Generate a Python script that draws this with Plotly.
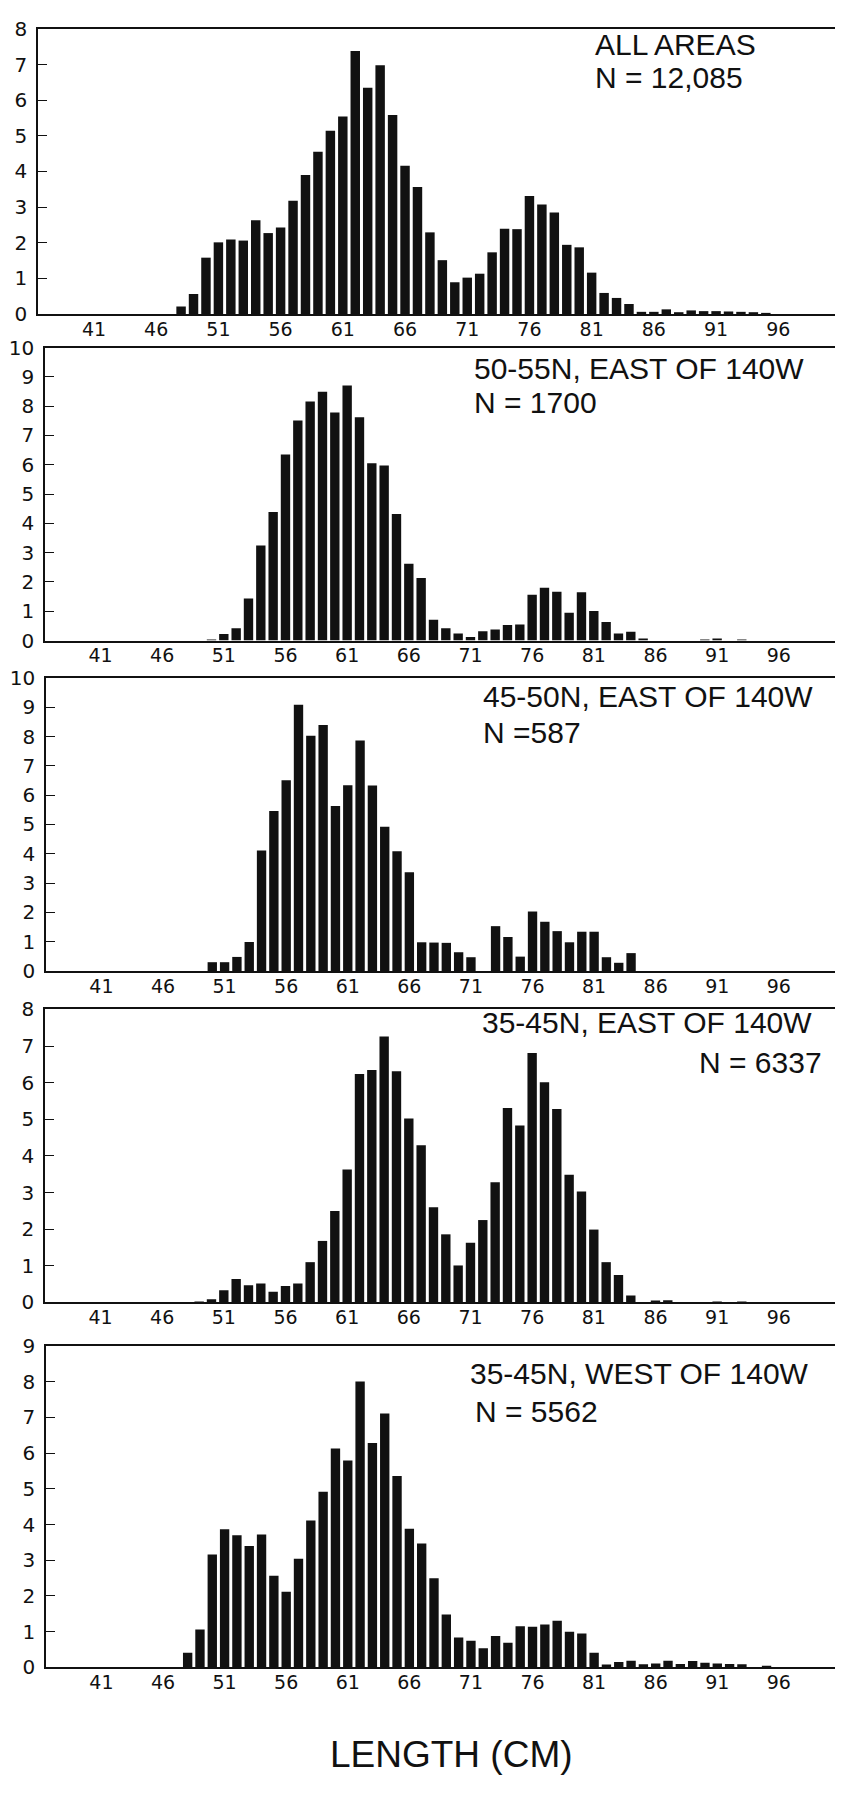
import plotly.graph_objects as go

# The page body keeps the browser's default 8px margin: the figure is sized so
# that margin + figure fill the 843x1794 window exactly, and every position
# below is given in window pixels.
OFF = 8
W, H = 843 - OFF, 1794 - 2 * OFF

# length classes (cm), one bar per cm
length_cm = list(range(48, 96))

all_areas = [0.21, 0.56, 1.58, 2.01, 2.09, 2.06, 2.63, 2.27, 2.43, 3.18, 3.90, 4.55,
             5.14, 5.54, 7.38, 6.35, 6.98, 5.58, 4.16, 3.56, 2.29, 1.51, 0.89, 1.02,
             1.13, 1.73, 2.39, 2.38, 3.31, 3.07, 2.85, 1.94, 1.87, 1.16, 0.59, 0.45,
             0.28, 0.06, 0.06, 0.13, 0.05, 0.10, 0.08, 0.08, 0.07, 0.06, 0.05, 0.03]

n50_55_east = [0, 0, 0.03, 0.22, 0.42, 1.43, 3.24, 4.39, 6.35, 7.51, 8.16, 8.49,
               7.78, 8.70, 7.62, 6.05, 5.97, 4.32, 2.62, 2.13, 0.71, 0.42, 0.24, 0.12,
               0.32, 0.38, 0.53, 0.55, 1.56, 1.80, 1.66, 0.95, 1.65, 1.01, 0.63, 0.24,
               0.30, 0.06, 0, 0, 0, 0, 0.02, 0.06, 0, 0.02, 0, 0]

n45_50_east = [0, 0, 0.30, 0.30, 0.48, 0.99, 4.11, 5.46, 6.51, 9.09, 8.03, 8.40,
               5.63, 6.34, 7.87, 6.33, 4.92, 4.09, 3.37, 0.98, 0.97, 0.96, 0.64, 0.47,
               0, 1.53, 1.16, 0.49, 2.03, 1.68, 1.36, 0.98, 1.34, 1.34, 0.47, 0.28,
               0.61, 0, 0, 0, 0, 0, 0, 0, 0, 0, 0, 0]

n35_45_east = [0, 0.02, 0.09, 0.33, 0.64, 0.47, 0.52, 0.29, 0.45, 0.52, 1.10, 1.68,
               2.50, 3.63, 6.24, 6.35, 7.26, 6.31, 5.02, 4.29, 2.60, 1.86, 1.01, 1.63,
               2.25, 3.28, 5.31, 4.83, 6.81, 6.01, 5.28, 3.49, 3.03, 1.99, 1.10, 0.75,
               0.19, 0, 0.03, 0.06, 0, 0, 0, 0.02, 0, 0.02, 0, 0]

n35_45_west = [0.41, 1.06, 3.16, 3.87, 3.70, 3.40, 3.72, 2.57, 2.12, 3.04, 4.11, 4.92,
               6.13, 5.79, 8.00, 6.28, 7.11, 5.36, 3.88, 3.47, 2.50, 1.48, 0.84, 0.75,
               0.54, 0.88, 0.69, 1.15, 1.14, 1.20, 1.31, 1.00, 0.95, 0.41, 0.08, 0.15,
               0.19, 0.09, 0.11, 0.19, 0.10, 0.18, 0.13, 0.11, 0.10, 0.09, 0, 0.04]

x_tick_vals = [41, 46, 51, 56, 61, 66, 71, 76, 81, 86, 91, 96]
x_tick_text = ["41", "46", "51", "56", "61", "66", "71", "76", "81", "86", "91", "96"]

panel_series = [all_areas, n50_55_east, n45_50_east, n35_45_east, n35_45_west]
panel_ymax = [8, 10, 10, 8, 9]

# panel frames in window pixels: (left, right, top, bottom)
panel_px = [
    (38, 838, 17, 306),
    (45, 838, 340, 637),
    (46, 838, 675, 972),
    (45, 838, 1011, 1308),
    (46, 838, 1352, 1678),
]

FONT = "Liberation Sans, Arial, Helvetica, sans-serif"
TICKFONT = "DejaVu Sans, Liberation Sans, sans-serif"
INK = "#111111"


def fx(x):
    return (x - OFF) / W


def fy(y):
    return 1 - (y - OFF) / H


fig = go.Figure()
layout_axes = {}
for i, (vals, ymax, (l, r, t, b)) in enumerate(zip(panel_series, panel_ymax, panel_px)):
    k = "" if i == 0 else str(i + 1)
    fig.add_trace(go.Bar(
        x=length_cm, y=vals, width=0.76,
        marker=dict(color=INK, line=dict(width=0)),
        xaxis="x" + k, yaxis="y" + k, showlegend=False,
    ))
    layout_axes["xaxis" + k] = dict(
        domain=[fx(l), fx(r)], range=[36.5, 100.8], anchor="y" + k,
        tickmode="array", tickvals=x_tick_vals, ticktext=x_tick_text,
        ticks="", showgrid=False, zeroline=False, ticklabelstandoff=-3,
        showline=True, mirror=True, linecolor=INK, linewidth=1.6,
        tickfont=dict(family=TICKFONT, size=19, color=INK),
    )
    layout_axes["yaxis" + k] = dict(
        domain=[fy(b), fy(t)], range=[0, ymax], anchor="x" + k,
        tickmode="linear", tick0=0, dtick=1,
        ticks="inside", ticklen=9, tickwidth=1.4, tickcolor=INK,
        ticklabelstandoff=5,
        showgrid=False, zeroline=False,
        showline=True, mirror=True, linecolor=INK, linewidth=1.6,
        tickfont=dict(family=TICKFONT, size=20, color=INK),
    )

labels = [
    ("ALL AREAS", 593, 33, "left"),
    ("N = 12,085", 593, 66, "left"),
    ("50-55N, EAST OF 140W", 472, 361, "left"),
    ("N = 1700", 472, 396, "left"),
    ("45-50N, EAST OF 140W", 481, 694, "left"),
    ("N =587", 481, 730, "left"),
    ("35-45N, EAST OF 140W", 480, 1024, "left"),
    ("N = 6337", 824, 1065, "right"),
    ("35-45N, WEST OF 140W", 468, 1380, "left"),
    ("N = 5562", 473, 1419, "left"),
]
annotations = []
for text, x, y, anchor in labels:
    annotations.append(dict(
        text=text, x=fx(x), y=fy(y), xref="paper", yref="paper",
        xanchor=anchor, yanchor="middle", showarrow=False,
        font=dict(family=FONT, size=30, color=INK),
    ))
annotations.append(dict(
    text="LENGTH (CM)", x=fx(452), y=fy(1766), xref="paper", yref="paper",
    xanchor="center", yanchor="middle", showarrow=False,
    font=dict(family=FONT, size=37, color=INK),
))

fig.update_layout(
    width=W, height=H, margin=dict(l=0, r=0, t=0, b=0),
    paper_bgcolor="white", plot_bgcolor="white",
    bargap=0.2, annotations=annotations, **layout_axes,
)

fig.write_html("out.html")
